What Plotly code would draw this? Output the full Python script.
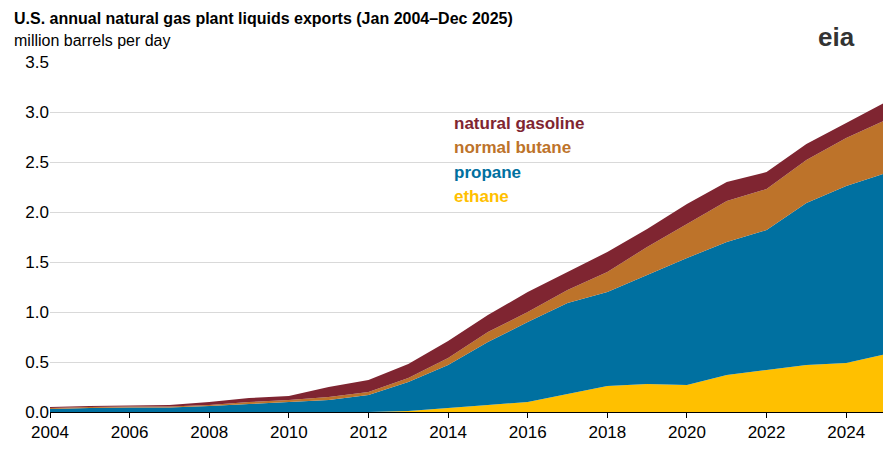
import plotly.graph_objects as go

years = list(range(2004, 2026))
ethane = [0,0,0,0,0,0,0,0,0,0.01,0.04,0.07,0.10,0.18,0.26,0.28,0.27,0.37,0.42,0.47,0.49,0.58]
cum_prop = [0.03,0.04,0.045,0.045,0.06,0.08,0.10,0.12,0.17,0.30,0.47,0.70,0.90,1.09,1.20,1.37,1.54,1.70,1.82,2.09,2.26,2.39]
cum_but = [0.04,0.05,0.055,0.055,0.07,0.10,0.12,0.15,0.20,0.34,0.54,0.80,1.00,1.22,1.40,1.65,1.88,2.11,2.23,2.52,2.74,2.92]
total = [0.05,0.06,0.065,0.07,0.10,0.14,0.16,0.25,0.32,0.48,0.71,0.97,1.20,1.40,1.60,1.83,2.08,2.30,2.40,2.68,2.89,3.10]
propane = [round(a-b,3) for a,b in zip(cum_prop, ethane)]
butane = [round(a-b,3) for a,b in zip(cum_but, cum_prop)]
gasoline = [round(a-b,3) for a,b in zip(total, cum_but)]

series = [("ethane", ethane, "#FFC000"), ("propane", propane, "#0070A0"),
          ("normal butane", butane, "#BD732A"), ("natural gasoline", gasoline, "#7F2531")]
fig = go.Figure()
for name, vals, col in series:
    fig.add_trace(go.Scatter(x=years, y=vals, name=name, stackgroup="s", mode="none",
                             fillcolor=col, line=dict(width=0)))

for i, (name, _, col) in enumerate(reversed(series)):
    fig.add_annotation(x=2014.1, y=2.89 - i*0.245, text=f"<b>{name}</b>", showarrow=False,
                       xanchor="left", font=dict(size=17, color=col))

fig.add_annotation(xref="paper", yref="paper", x=-0.045, y=1.155, xanchor="left", yanchor="top",
                   text="<b>U.S. annual natural gas plant liquids exports (Jan 2004–Dec 2025)</b>",
                   showarrow=False, font=dict(size=16, color="#000"))
fig.add_annotation(xref="paper", yref="paper", x=-0.045, y=1.09, xanchor="left", yanchor="top",
                   text="million barrels per day", showarrow=False, font=dict(size=16, color="#000"))
fig.add_annotation(xref="paper", yref="paper", x=0.965, y=1.12, xanchor="right", yanchor="top",
                   text="<b>eia</b>", showarrow=False, font=dict(size=26, color="#333"))

fig.update_layout(width=891, height=450, margin=dict(l=42, r=13, t=54, b=46),
                  plot_bgcolor="white", paper_bgcolor="white", showlegend=False,
                  font=dict(family="Liberation Sans, Arial", size=17, color="#000"))
fig.update_xaxes(range=[2004, 2025], tickvals=list(range(2004, 2025, 2)), showgrid=False,
                 ticks="outside", ticklen=5, tickcolor="#000", showline=True, linecolor="#000")
fig.update_yaxes(range=[0, 3.5], tickvals=[0,0.5,1,1.5,2,2.5,3,3.5], ticktext=["0.0","0.5","1.0","1.5","2.0","2.5","3.0","3.5"],
                 gridcolor="#d9d9d9", zeroline=False)
fig.write_html("out.html")
